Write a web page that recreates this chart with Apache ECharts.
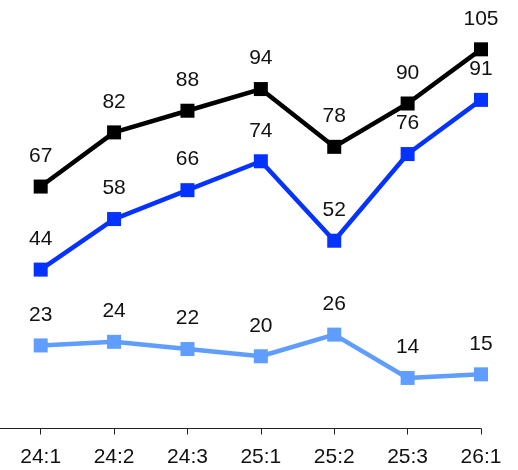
<!DOCTYPE html>
<html><head><meta charset="utf-8">
<script src="https://cdn.jsdelivr.net/npm/echarts@6/dist/echarts.min.js"></script>
<style>html,body{margin:0;padding:0;background:#fff}#c{width:518px;height:470px}</style>
</head><body><div id="c"></div>
<script>
const categories = ['24:1','24:2','24:3','25:1','25:2','25:3','26:1'];
const seriesBlack = [67, 82, 88, 94, 78, 90, 105];
const seriesBlue = [44, 58, 66, 74, 52, 76, 91];
const seriesLight = [23, 24, 22, 20, 26, 14, 15];

const chart = echarts.init(document.getElementById('c'));
const FONT = '"Liberation Sans", Arial, sans-serif';
function mk(name, data, color) {
  return {
    name, type: 'line', data,
    symbol: 'rect', symbolSize: 14,
    lineStyle: { color, width: 4.5 },
    itemStyle: { color },
    label: { show: true, position: 'top', distance: 13, color: '#111', fontSize: 21, fontFamily: FONT },
    emphasis: { disabled: true },
    animation: false
  };
}
chart.setOption({
  animation: false,
  grid: { left: 40.7, right: 37, top: 6, bottom: 41.5 },
  xAxis: {
    type: 'category', data: categories, boundaryGap: false,
    axisLine: { lineStyle: { color: '#222', width: 1 } },
    axisTick: { show: true, length: 6, lineStyle: { color: '#222' } },
    axisLabel: { color: '#111', fontSize: 21, fontFamily: FONT, margin: 18, showMinLabel: true, showMaxLabel: true, hideOverlap: false }
  },
  yAxis: { type: 'value', min: 0, max: 117, show: false, splitLine: { show: false } },
  graphic: [{ type: 'line', shape: { x1: 0, y1: 428.5, x2: 41, y2: 428.5 }, style: { stroke: '#222', lineWidth: 1 }, silent: true }],
  series: [
    mk('light', seriesLight, '#5f9dff'),
    mk('blue', seriesBlue, '#0433ff'),
    mk('black', seriesBlack, '#000000')
  ]
});
</script></body></html>
